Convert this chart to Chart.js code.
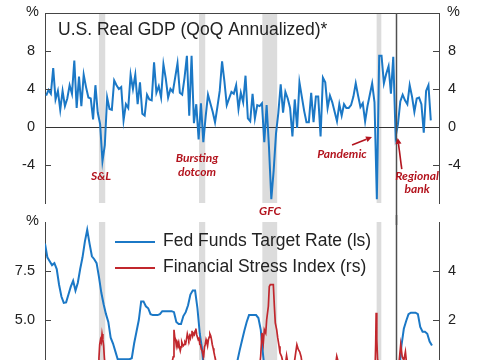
<!DOCTYPE html>
<html>
<head>
<meta charset="utf-8">
<script src="https://cdn.jsdelivr.net/npm/chart.js@4.4.1/dist/chart.umd.min.js"></script>
<style>
  html, body { margin: 0; padding: 0; background: #fff; }
  body { width: 485px; height: 360px; overflow: hidden; position: relative; }
  canvas { position: absolute; left: 0; }
  #gdpChart { top: 0; }
  #policyChart { top: 215px; }
</style>
</head>
<body>
<canvas id="gdpChart" width="485" height="225"></canvas>
<canvas id="policyChart" width="485" height="225"></canvas>
<script>
// ---- data ----
const xMin = 1984.75;
const xMax = 2026.75;

// Real GDP, QoQ annualized %, quarterly from 1984Q4 (plotted mid-quarter)
const gdpStartQuarter = 1984.875;
const gdpValues = [
  3.3,
  3.9, 3.5, 6.2, 2.9,   3.8, 1.8, 3.8, 2.2,   3.0, 4.4, 3.5, 7.0,   2.0, 5.3, 2.2, 5.5,
  4.2, 3.1, 3.0, 0.8,   4.4, 1.5, 0.3, -3.6,  -1.9, 3.1, 1.9, 1.8,  4.9, 4.4, 4.0, 4.2,
  0.7, 2.4, 2.0, 5.5,   4.0, 5.5, 2.4, 4.7,   1.4, 1.2, 3.4, 2.9,   2.8, 6.8, 3.6, 4.3,
  3.1, 6.6, 5.1, 3.1,   4.0, 3.7, 5.2, 6.7,   3.6, 3.4, 5.2, 7.5,   1.2, 7.5, 0.4, 2.4,
  -1.3, 2.5, -1.6, 1.1, 3.4, 2.5, 1.6, 0.5,   2.1, 3.8, 6.9, 4.8,   2.3, 3.0, 3.7, 3.5,
  4.4, 1.9, 3.6, 2.6,   5.4, 0.9, 0.6, 3.5,   0.9, 2.3, 2.2, 2.5,   -1.6, 2.3, -2.1, -7.6,
  -4.6, -0.7, 1.5, 4.5, 1.5, 3.7, 3.0, 2.0,   -1.0, 2.9, -0.1, 4.7, 3.2, 1.7, 0.5, 0.5,
  3.6, 0.5, 3.2, 3.2,   -1.0, 5.2, 4.7, 2.0,  3.3, 2.6, 1.6, 0.6,   2.4, 1.2, 2.4, 2.0,
  2.0, 2.3, 3.2, 4.6,   3.3, 2.1, 2.5, 0.6,   2.2, 3.4, 4.6, 2.6,   -7.6, 7.5, 7.5, 4.6,
  5.6, 6.4, 3.5, 7.4,   -1.0, 0.3, 2.7, 3.4,  2.8, 2.4, 4.4, 3.2,   1.6, 3.0, 3.1, 2.4,
  -0.6, 3.8, 4.4, 0.7
];

// Fed funds target rate (%), quarterly from 1984Q4 (plotted at quarter start)
const ffStartQuarter = 1984.75;
const ffRates = [
  8.9,
  8.2, 8.0, 7.8, 7.9,      7.6, 6.8, 6.2, 5.875,    5.9, 6.3, 6.7, 7.0,      6.5, 6.9, 7.6, 8.2,
  9.0, 9.6, 8.9, 8.25,     8.1, 7.9, 7.2, 6.4,      5.8, 5.3, 4.9, 4.1,      3.8, 3.4, 3.0, 3.0,
  3.0, 3.0, 3.0, 3.0,      3.05, 3.8, 4.4, 5.0,     5.95, 5.95, 5.7, 5.6,    5.3, 5.25, 5.25, 5.25,
  5.3, 5.45, 5.45, 5.45,   5.45, 5.45, 5.4, 4.9,    4.8, 4.8, 5.2, 5.4,      5.75, 6.3, 6.5, 6.5,
  5.6, 4.3, 3.5, 2.1,      1.75, 1.75, 1.75, 1.45,  1.25, 1.2, 1.0, 1.0,     1.0, 1.0, 1.4, 1.95,
  2.5, 2.9, 3.45, 3.95,    4.45, 4.9, 5.25, 5.25,   5.25, 5.25, 5.1, 4.5,    3.2, 2.1, 2.0, 0.7,
  0.125, 0.125, 0.125, 0.125,  0.125, 0.125, 0.125, 0.125,  0.125, 0.125, 0.125, 0.125,
  0.125, 0.125, 0.125, 0.125,  0.125, 0.125, 0.125, 0.125,  0.125, 0.125, 0.125, 0.125,
  0.125, 0.125, 0.125, 0.2,    0.375, 0.375, 0.375, 0.4,    0.7, 0.95, 1.125, 1.2,
  1.45, 1.7, 1.95, 2.2,        2.375, 2.375, 2.2, 1.7,      1.2, 0.125, 0.125, 0.125,
  0.125, 0.125, 0.125, 0.125,  0.2, 0.8, 2.3, 3.7,          4.55, 4.95, 5.3, 5.375,
  5.375, 5.375, 5.3, 4.65,     4.4, 4.4, 4.3, 3.9,          3.7
];

// Financial stress index (rs)
const fsiDates = [
  1990.08, 1990.25, 1990.42, 1990.5, 1990.58, 1990.67, 1990.75, 1990.83, 1990.92, 1991.0,
  1991.08, 1991.17, 1991.33, 1991.67, 1992.0, 1992.5, 1993.0, 1993.5, 1994.0, 1994.5,
  1995.0, 1995.5, 1996.0, 1996.5, 1997.0, 1997.5, 1997.92, 1998.25, 1998.42, 1998.5,
  1998.58, 1998.67, 1998.75, 1998.83, 1998.92, 1999.0, 1999.08, 1999.17, 1999.25, 1999.33,
  1999.42, 1999.5, 1999.58, 1999.67, 1999.75, 1999.83, 1999.92, 2000.0, 2000.08, 2000.17,
  2000.25, 2000.33, 2000.42, 2000.5, 2000.58, 2000.67, 2000.75, 2000.83, 2000.92, 2001.0,
  2001.08, 2001.17, 2001.25, 2001.33, 2001.42, 2001.5, 2001.58, 2001.67, 2001.75, 2001.83,
  2001.92, 2002.0, 2002.08, 2002.17, 2002.25, 2002.33, 2002.42, 2002.5, 2002.58, 2002.67,
  2002.75, 2002.83, 2002.92, 2003.0, 2003.25, 2003.75, 2004.5, 2005.5, 2006.5, 2007.0,
  2007.5, 2007.6, 2007.74, 2007.88, 2008.02, 2008.13, 2008.28, 2008.38, 2008.56, 2008.66,
  2008.77, 2008.93, 2009.09, 2009.2, 2009.3, 2009.45, 2009.56, 2009.7, 2009.8, 2009.98,
  2010.15, 2010.35, 2010.5, 2010.65, 2010.9, 2011.2, 2011.45, 2011.6, 2011.75, 2011.9,
  2012.05, 2012.2, 2012.5, 2013.0, 2014.0, 2015.0, 2015.6, 2015.85, 2016.0, 2016.2,
  2017.0, 2018.0, 2019.0, 2019.8, 2019.92, 2020.0, 2020.05, 2020.12, 2020.2, 2020.33,
  2021.0, 2022.0, 2022.5, 2022.67, 2022.83, 2023.0, 2023.17, 2023.3, 2024.0, 2025.0,
  2025.3, 2025.9
];
const fsiValues = [
  0.1, -0.1, 0.2, 0.45, 1.0, 1.2, 1.1, 1.43, 1.2, 0.95,
  0.45, 0.1, -0.1, -0.2, -0.3, -0.4, -0.5, -0.7, -0.6, -0.3,
  -0.4, -0.7, -0.6, -0.5, -0.6, -0.4, 0.0, 0.2, 0.5, 1.6,
  1.3, 1.2, 0.95, 1.1, 1.0, 1.1, 0.9, 0.75, 0.9, 1.1,
  1.0, 0.95, 1.0, 1.1, 1.05, 1.2, 1.43, 1.3, 1.2, 1.35,
  1.25, 1.4, 1.56, 1.35, 1.45, 1.4, 1.55, 1.65, 1.4, 1.3,
  1.2, 1.25, 1.0, 0.99, 0.8, 0.75, 0.6, 0.55, 0.9, 1.0,
  1.2, 1.1, 0.95, 1.2, 1.3, 1.43, 1.35, 1.2, 1.0, 0.85,
  0.7, 0.55, 0.4, 0.3, -0.1, -0.4, -0.6, -0.7, -0.7, -0.6,
  -0.3, 0.0, 0.52, 1.47, 1.06, 1.6, 1.47, 2.01, 2.56, 3.37,
  3.44, 3.44, 3.44, 2.56, 1.88, 1.6, 1.27, 0.93, 0.66, 0.5,
  0.2, 0.1, 0.55, 0.2, -0.1, -0.1, 0.6, 0.99, 0.8, 0.7,
  0.5, 0.1, 0.2, -0.4, -0.6, -0.5, -0.2, 0.52, 0.3, -0.1,
  -0.6, -0.5, -0.4, -0.5, -0.2, 1.0, 2.3, 1.2, 0.4, -0.1,
  -0.8, -0.4, 0.3, 1.0, 0.5, 0.35, 0.7, 0.2, -0.4, -0.3,
  0.0, -0.3
];

const recessions = [[1990.5, 1991.17], [2001.17, 2001.83], [2007.92, 2009.5], [2020.1, 2020.6]];
const hikeStart = 2022.17;

const gdpNotes = [
  { lines: ['S&L'], x: 1990.72, y: -5.2 },
  { lines: ['Bursting', 'dotcom'], x: 2000.95, y: -4.02 },
  { lines: ['GFC'], x: 2008.74, y: -8.9 },
  { lines: ['Pandemic'], x: 2016.41, y: -2.86 },
  { lines: ['Regional', 'bank'], x: 2024.41, y: -5.88 }
];
const gdpArrows = [
  { from: [2017.48, -1.9], to: [2019.61, -1.06] },
  { from: [2022.78, -4.44], to: [2022.35, -1.16] }
];

// ---- styling ----
const BLUE = '#1b78c6';
const RED = '#c1272d';
const NOTE_RED = '#b3141e';
const AXIS = '#454545';
const TEXT = '#222';
const FONT = '"Liberation Sans", Arial, sans-serif';

Chart.defaults.font.family = FONT;
Chart.defaults.color = TEXT;

const gdpPoints = gdpValues.map((v, i) => ({ x: gdpStartQuarter + i * 0.25, y: v }));
const ffPoints = ffRates.map((v, i) => ({ x: ffStartQuarter + i * 0.25, y: v }));
const fsiPoints = fsiDates.map((d, i) => ({ x: d, y: fsiValues[i] }));

// recession shading, drawn under everything
const bandsPlugin = {
  id: 'bands',
  beforeDraw(chart) {
    const { ctx, chartArea: a, scales: { x } } = chart;
    ctx.save();
    ctx.fillStyle = '#dcdcdc';
    recessions.forEach(([s, e]) => {
      const x0 = x.getPixelForValue(s);
      const x1 = x.getPixelForValue(e);
      ctx.fillRect(x0, a.top, x1 - x0, a.bottom - a.top);
    });
    ctx.restore();
  }
};

// inward tick marks, % units, hike line
const axisExtras = {
  id: 'axisExtras',
  afterDraw(chart, args, opts) {
    const { ctx, chartArea: a, scales } = chart;
    ctx.save();
    ctx.strokeStyle = AXIS;
    ctx.lineWidth = 1;
    ['y', 'y2'].forEach(id => {
      const s = scales[id];
      s.ticks.forEach(t => {
        if (opts.hide.includes(id + ':' + t.value)) return;
        const py = Math.round(s.getPixelForValue(t.value)) + 0.5;
        ctx.beginPath();
        if (s.position === 'left') { ctx.moveTo(a.left, py); ctx.lineTo(a.left + 6, py); }
        else { ctx.moveTo(a.right - 6, py); ctx.lineTo(a.right, py); }
        ctx.stroke();
      });
    });
    if (opts.topBorder) {
      ctx.beginPath();
      ctx.moveTo(a.left, a.top + 0.5);
      ctx.lineTo(a.right, a.top + 0.5);
      ctx.stroke();
    }
    // hike start line
    const hx = Math.round(scales.x.getPixelForValue(hikeStart)) + 0.5;
    ctx.strokeStyle = '#505050';
    ctx.lineWidth = 1.5;
    ctx.beginPath();
    ctx.moveTo(hx, opts.lineFrom === 'top' ? a.top : 0);
    ctx.lineTo(hx, opts.lineFrom === 'top' ? chart.height : a.bottom);
    ctx.stroke();
    // % units
    ctx.fillStyle = TEXT;
    ctx.font = '14.5px ' + FONT;
    ctx.textBaseline = 'middle';
    ctx.textAlign = 'right';
    ctx.fillText('%', a.left - 6, a.top - 1);
    if (opts.rightUnit) {
      ctx.textAlign = 'left';
      ctx.fillText('%', a.right + 8, a.top - 1);
    }
    ctx.restore();
  }
};

const gdpText = {
  id: 'gdpText',
  afterDraw(chart) {
    const { ctx, chartArea: a, scales: { x, y } } = chart;
    ctx.save();
    ctx.fillStyle = TEXT;
    ctx.font = '17.5px ' + FONT;
    ctx.textAlign = 'left';
    ctx.textBaseline = 'alphabetic';
    ctx.fillText('U.S. Real GDP (QoQ Annualized)*', a.left + 13, a.top + 21.5);

    ctx.fillStyle = NOTE_RED;
    ctx.strokeStyle = NOTE_RED;
    ctx.font = 'italic bold 12px Lato, ' + FONT;
    ctx.textAlign = 'center';
    ctx.textBaseline = 'middle';
    gdpNotes.forEach(n => {
      const cx = x.getPixelForValue(n.x);
      const cy = y.getPixelForValue(n.y);
      const lh = 13.5;
      n.lines.forEach((l, i) => {
        ctx.fillText(l, cx, cy + (i - (n.lines.length - 1) / 2) * lh);
      });
    });
    ctx.lineWidth = 1.6;
    gdpArrows.forEach(ar => {
      const x0 = x.getPixelForValue(ar.from[0]), y0 = y.getPixelForValue(ar.from[1]);
      const x1 = x.getPixelForValue(ar.to[0]), y1 = y.getPixelForValue(ar.to[1]);
      const ang = Math.atan2(y1 - y0, x1 - x0);
      const hl = 6, hw = 3;
      const bx = x1 - hl * Math.cos(ang), by = y1 - hl * Math.sin(ang);
      ctx.beginPath();
      ctx.moveTo(x0, y0);
      ctx.lineTo(bx, by);
      ctx.stroke();
      ctx.beginPath();
      ctx.moveTo(x1, y1);
      ctx.lineTo(bx + hw * Math.sin(ang), by - hw * Math.cos(ang));
      ctx.lineTo(bx - hw * Math.sin(ang), by + hw * Math.cos(ang));
      ctx.closePath();
      ctx.fill();
    });
    ctx.restore();
  }
};

const policyLegend = {
  id: 'policyLegend',
  afterDraw(chart) {
    const { ctx, chartArea: a } = chart;
    ctx.save();
    ctx.font = '17.5px ' + FONT;
    ctx.textBaseline = 'middle';
    ctx.textAlign = 'left';
    chart.data.datasets.forEach((ds, i) => {
      const yy = a.top + 20 + i * 26;
      ctx.strokeStyle = ds.borderColor;
      ctx.lineWidth = 2;
      ctx.beginPath();
      ctx.moveTo(a.left + 70, yy);
      ctx.lineTo(a.left + 110, yy);
      ctx.stroke();
      ctx.fillStyle = TEXT;
      ctx.fillText(ds.label, a.left + 118, yy - 1);
    });
    ctx.restore();
  }
};

function yAxis(pos, min, max, step, width, fmt, hidden) {
  return {
    position: pos,
    min: min,
    max: max,
    afterFit: s => { s.width = width; s.paddingTop = 0; s.paddingBottom = 0; },
    ticks: {
      stepSize: step,
      padding: pos === 'left' ? 10 : 9,
      color: TEXT,
      font: { size: 14.5, family: FONT },
      callback: v => hidden.includes(v) ? '' : fmt(v)
    },
    grid: { display: false, drawTicks: false },
    border: { display: true, color: AXIS, width: 1 }
  };
}

// ---- top panel: GDP ----
const gdpLeft = yAxis('left', -8, 12, 4, 45, v => String(v), [-8, 12]);
gdpLeft.grid = {
  display: true,
  drawTicks: false,
  lineWidth: 1,
  color: c => (c.tick && c.tick.value === 0) ? '#333' : 'rgba(0,0,0,0)'
};

new Chart(document.getElementById('gdpChart'), {
  type: 'line',
  data: {
    datasets: [{
      label: 'U.S. Real GDP',
      data: gdpPoints,
      borderColor: BLUE,
      borderWidth: 2,
      pointRadius: 0,
      tension: 0,
      yAxisID: 'y'
    }]
  },
  options: {
    responsive: false,
    animation: false,
    events: [],
    layout: { padding: { top: 13, bottom: 22, left: 0, right: 0 } },
    plugins: {
      legend: { display: false },
      tooltip: { enabled: false },
      axisExtras: { hide: ['y:-8', 'y:12', 'y2:-8', 'y2:12', 'y:0', 'y2:0'], topBorder: true, rightUnit: true, lineFrom: 'top' }
    },
    scales: {
      x: { type: 'linear', min: xMin, max: xMax, display: false },
      y: gdpLeft,
      y2: yAxis('right', -8, 12, 4, 46, v => String(v), [-8, 12])
    }
  },
  plugins: [bandsPlugin, axisExtras, gdpText]
});

// ---- bottom panel: Fed funds vs financial stress ----
new Chart(document.getElementById('policyChart'), {
  type: 'line',
  data: {
    datasets: [{
      label: 'Fed Funds Target Rate (ls)',
      data: ffPoints,
      borderColor: BLUE,
      borderWidth: 2,
      pointRadius: 0,
      tension: 0,
      yAxisID: 'y',
      order: 1
    }, {
      label: 'Financial Stress Index (rs)',
      data: fsiPoints,
      borderColor: RED,
      borderWidth: 1.7,
      pointRadius: 0,
      tension: 0,
      yAxisID: 'y2',
      order: 0
    }]
  },
  options: {
    responsive: false,
    animation: false,
    events: [],
    layout: { padding: { top: 7, bottom: 22, left: 0, right: 0 } },
    plugins: {
      legend: { display: false },
      tooltip: { enabled: false },
      axisExtras: { hide: ['y:0', 'y:10', 'y2:-2', 'y2:6'], topBorder: false, rightUnit: false, lineFrom: 'bottom' }
    },
    scales: {
      x: { type: 'linear', min: xMin, max: xMax, display: false },
      y: yAxis('left', 0, 10, 2.5, 45, v => v.toFixed(1), [10]),
      y2: yAxis('right', -2, 6, 2, 46, v => String(v), [6])
    }
  },
  plugins: [bandsPlugin, axisExtras, policyLegend]
});
</script>
</body>
</html>
